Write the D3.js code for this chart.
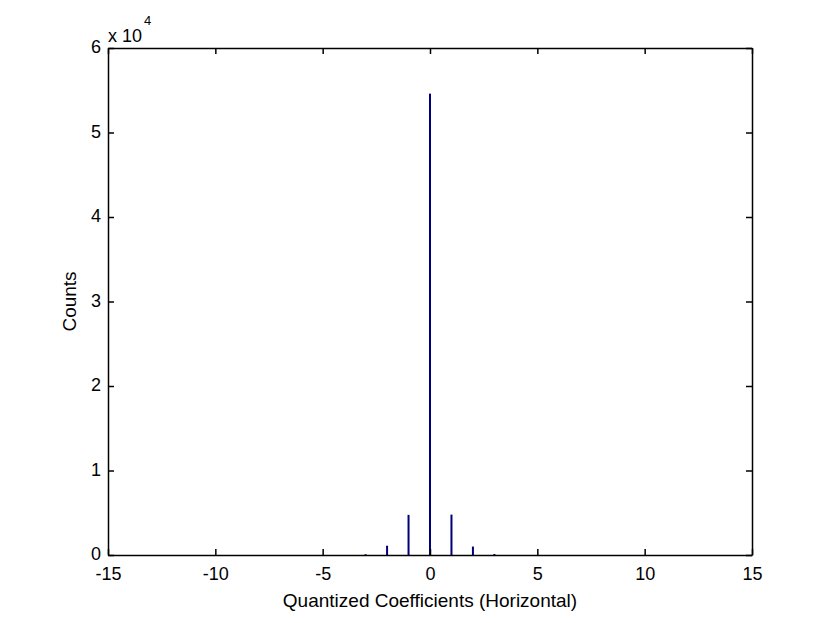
<!DOCTYPE html>
<html lang="en">
<head>
    <meta charset="UTF-8">
    <title>Quantized Coefficients</title>
    <script src="https://cdn.jsdelivr.net/npm/d3@7"></script>
    <style>
        body { margin: 0; background: #fff; }
        text { font-family: "Liberation Sans", Arial, sans-serif; }
    </style>
</head>
<body>
    <svg width="830" height="623"></svg>

    <script>
        // histogram data
        var bins = [-3, -2, -1, 0, 1, 2, 3];
        var counts = [100, 1100, 4750, 54600, 4780, 1000, 120];
        var xTicks = [-15, -10, -5, 0, 5, 10, 15];
        var yTicks = [0, 1, 2, 3, 4, 5, 6];   // x 10^4

        var svg = d3.select('svg');
        var pLeft = 108, pRight = 752, pTop = 48, pBottom = 555;

        var scaleX = d3.scaleLinear().domain([-15, 15]).range([pLeft, pRight]);
        var scaleY = d3.scaleLinear().domain([0, 60000]).range([pBottom, pTop]);

        // bars
        svg.selectAll('rect.bar').data(bins).enter().append('rect')
            .attr('class', 'bar')
            .attr('x', function (d) { return scaleX(d) - 1; })
            .attr('width', 2)
            .attr('y', function (d, i) { return scaleY(counts[i]); })
            .attr('height', function (d, i) { return pBottom - scaleY(counts[i]); })
            .attr('fill', '#00007a');

        // axes, ticks inward
        var axB = d3.axisBottom(scaleX).tickValues(xTicks).tickFormat(String)
            .tickSize(-6).tickPadding(12).tickSizeOuter(0);
        var axT = d3.axisTop(scaleX).tickValues(xTicks).tickSize(-6).tickFormat('').tickSizeOuter(0);
        var axL = d3.axisLeft(scaleY).tickValues(yTicks.map(function (v) { return v * 1e4; }))
            .tickFormat(function (v) { return String(v / 1e4); }).tickSize(-6).tickPadding(7).tickSizeOuter(0);
        var axR = d3.axisRight(scaleY).tickValues(yTicks.map(function (v) { return v * 1e4; }))
            .tickFormat('').tickSize(-6).tickSizeOuter(0);

        var gB = svg.append('g').attr('transform', 'translate(0,' + pBottom + ')').call(axB);
        var gT = svg.append('g').attr('transform', 'translate(0,' + pTop + ')').call(axT);
        var gL = svg.append('g').attr('transform', 'translate(' + pLeft + ',0)').call(axL);
        var gR = svg.append('g').attr('transform', 'translate(' + pRight + ',0)').call(axR);

        [gB, gT, gL, gR].forEach(function (g) {
            g.selectAll('path, line').attr('stroke', '#000').attr('stroke-width', 1.5);
            g.selectAll('text').attr('font-size', 18).attr('fill', '#000')
                .style('font-family', '"Liberation Sans", Arial, sans-serif');
        });
        gL.selectAll('text').attr('dy', '0.25em');

        // exponent label
        var ex = svg.append('text').attr('x', pLeft).attr('y', 42).attr('font-size', 18);
        ex.append('tspan').text('x 10');
        ex.append('tspan').attr('dy', -17).attr('dx', 2).attr('font-size', 13).text('4');

        // axis titles
        svg.append('text')
            .attr('x', (pLeft + pRight) / 2).attr('y', 607)
            .attr('text-anchor', 'middle').attr('font-size', 19)
            .text('Quantized Coefficients (Horizontal)');

        svg.append('text')
            .attr('transform', 'translate(76,' + ((pTop + pBottom) / 2) + ') rotate(-90)')
            .attr('text-anchor', 'middle').attr('font-size', 19)
            .text('Counts');
    </script>
</body>
</html>
